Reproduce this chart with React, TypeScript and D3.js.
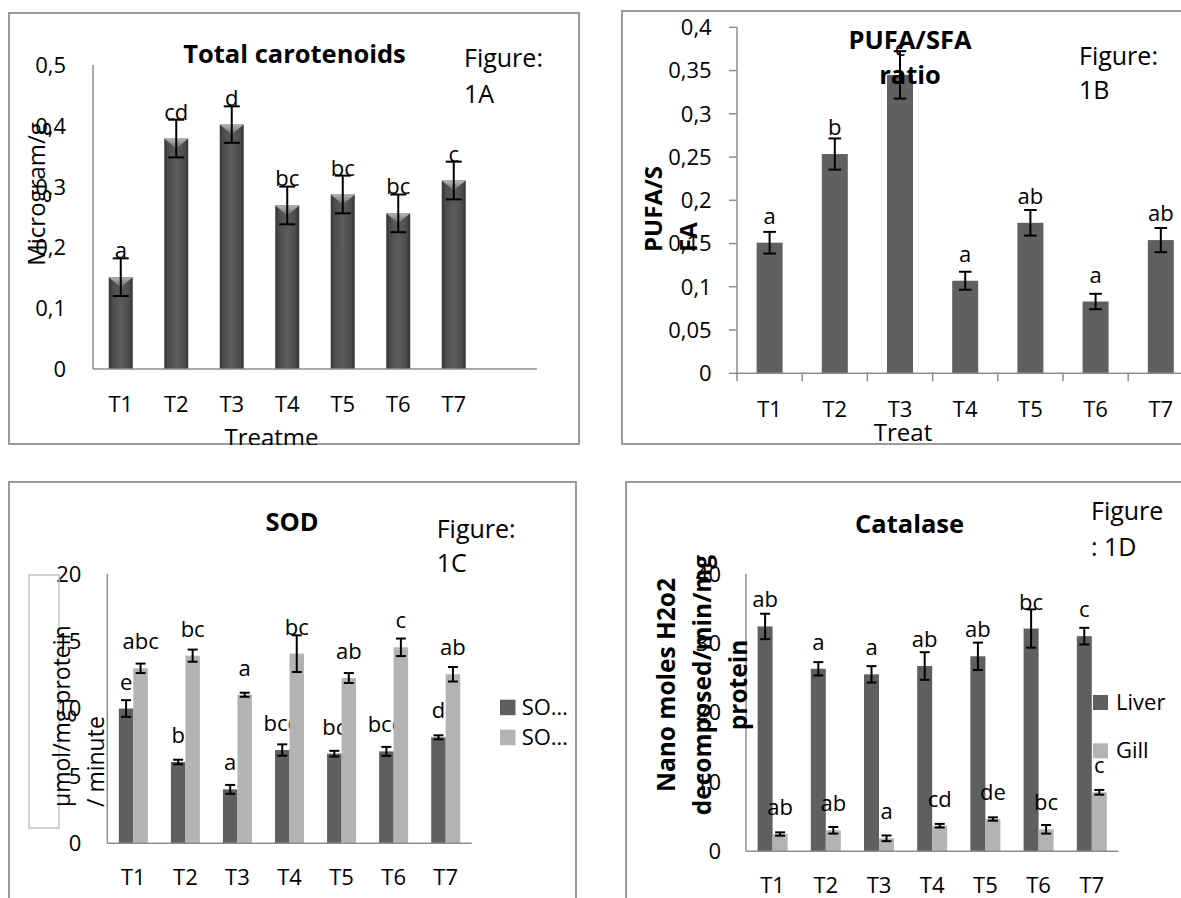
import * as d3 from "d3";
import React from "react";

const treatments = ["T1", "T2", "T3", "T4", "T5", "T6", "T7"];

// Figure 1A - total carotenoids (microgram/g)
const carotenoids = [0.151, 0.379, 0.402, 0.269, 0.287, 0.256, 0.31];
const carotenoidsErr = [0.031, 0.031, 0.03, 0.031, 0.031, 0.031, 0.031];
const carotenoidsSig = ["a", "cd", "d", "bc", "bc", "bc", "c"];
const carotenoidsTicks = [0, 0.1, 0.2, 0.3, 0.4, 0.5];

// Figure 1B - PUFA/SFA ratio
const pufaSfa = [0.151, 0.2535, 0.345, 0.107, 0.174, 0.083, 0.154];
const pufaSfaErr = [0.0125, 0.018, 0.0274, 0.0104, 0.0148, 0.0089, 0.014];
const pufaSfaSig = ["a", "b", "c", "a", "ab", "a", "ab"];
const pufaSfaTicks = [0, 0.05, 0.1, 0.15, 0.2, 0.25, 0.3, 0.35, 0.4];

// Figure 1C - SOD (two series, legend names truncated)
const sodNames = ["SO…", "SO…"];
const sod1 = [10.0, 6.03, 4.0, 6.92, 6.65, 6.82, 7.86];
const sod1Err = [0.62, 0.17, 0.33, 0.42, 0.21, 0.33, 0.15];
const sod1Sig = ["e", "b", "a", "bcd", "bc", "bcd", "d"];
const sod2 = [12.98, 13.92, 11.02, 14.07, 12.26, 14.54, 12.54];
const sod2Err = [0.35, 0.45, 0.15, 1.36, 0.37, 0.65, 0.54];
const sod2Sig = ["abc", "bc", "a", "bc", "ab", "c", "ab"];
const sodTicks = [0, 5, 10, 15, 20];

// Figure 1D - catalase
const catalaseNames = ["Liver", "Gill"];
const liver = [32.4, 26.3, 25.5, 26.7, 28.1, 32.1, 31.0];
const liverErr = [1.83, 0.96, 1.18, 1.99, 1.97, 2.76, 1.2];
const liverSig = ["ab", "a", "a", "ab", "ab", "bc", "c"];
const gill = [2.49, 3.03, 1.87, 3.69, 4.65, 3.17, 8.5];
const gillErr = [0.24, 0.48, 0.41, 0.26, 0.24, 0.62, 0.34];
const gillSig = ["ab", "ab", "a", "cd", "de", "bc", "c"];
const catalaseTicks = [0, 10, 20, 30, 40];

const FONT = "'Open Sans', 'Noto Sans', sans-serif";
const DARK = "#5f5f5f";
const LIGHT = "#b3b3b3";
const AXIS = "#8e8e8e";
const BORDER = "#9a9a9a";

const comma = (t) => String(+t.toFixed(2)).replace(".", ",");

const panels = [
  {
    id: "A",
    box: { x: 9, y: 13, w: 570, h: 431 },
    x0: 93, step: 55.5, axisEnd: 537, y0: 369, yTop: 65,
    ticks: carotenoidsTicks, fmt: comma, tickX: 66,
    series: [{ values: carotenoids, err: carotenoidsErr, sig: carotenoidsSig, fill: "url(#barGrad)" }],
    barW: 24, cap: 8, gradient: true,
    title: ["Total carotenoids"], titleX: 294.5, titleY: [63],
    figure: ["Figure:", "1A"], figX: 464, figY: [67, 103],
    yLabel: [{ t: "Microgram/g", x: 45 }], yLabelY: 194, yAnchor: "middle", yBold: false, ySize: 24,
    xLabel: "Treatme", xLabelX: 271.5, xLabelY: 446,
    xTickY: 412,
  },
  {
    id: "B",
    box: { x: 622, y: 11, w: 580, h: 433 },
    x0: 737, step: 65.2, axisEnd: 1193, y0: 373.3, yTop: 27.3,
    ticks: pufaSfaTicks, fmt: comma, tickX: 711.7,
    series: [{ values: pufaSfa, err: pufaSfaErr, sig: pufaSfaSig, fill: "#606060" }],
    barW: 26, cap: 6.3, tickMarks: true,
    title: ["PUFA/SFA", "ratio"], titleX: 910, titleY: [49, 84],
    figure: ["Figure:", "1B"], figX: 1079, figY: [65, 99],
    yLabel: [{ t: "PUFA/S", x: 662 }, { t: "FA", x: 697 }], yLabelY: 252, yAnchor: "start", yBold: true, ySize: 24,
    xLabel: "Treat", xLabelX: 903, xLabelY: 441,
    xTickY: 416.7,
  },
  {
    id: "C",
    box: { x: 9, y: 482, w: 567, h: 430 },
    x0: 107.3, step: 52.06, axisEnd: 471.7, y0: 843.3, yTop: 573.7,
    ticks: sodTicks, fmt: (t) => String(t), tickX: 81.3,
    series: [
      { values: sod1, err: sod1Err, sig: sod1Sig, fill: DARK, name: sodNames[0] },
      { values: sod2, err: sod2Err, sig: sod2Sig, fill: LIGHT, name: sodNames[1] },
    ],
    barW: 14.5, cap: 5,
    title: ["SOD"], titleX: 292, titleY: [530.7],
    figure: ["Figure:", "1C"], figX: 436.7, figY: [538, 572],
    yLabel: [{ t: "μmol/mg protein", x: 70 }, { t: "/ minute", x: 104 }], yLabelY: 807, yAnchor: "start", yBold: false, ySize: 23,
    yLabelBox: { x: 29, y: 575, w: 30, h: 253 },
    xTickY: 885,
    legend: { x: 500, size: 15.5, tops: [699.7, 729.7], textX: 521.7 },
  },
  {
    id: "D",
    box: { x: 626, y: 482, w: 580, h: 430 },
    x0: 746, step: 53.2, axisEnd: 1118.3, y0: 851.3, yTop: 573.7,
    ticks: catalaseTicks, fmt: (t) => String(t), tickX: 721,
    series: [
      { values: liver, err: liverErr, sig: liverSig, fill: DARK, name: catalaseNames[0] },
      { values: gill, err: gillErr, sig: gillSig, fill: LIGHT, name: catalaseNames[1] },
    ],
    barW: 15, cap: 5,
    title: ["Catalase"], titleX: 909.6, titleY: [533],
    figure: ["Figure", ": 1D"], figX: 1091, figY: [520, 556],
    yLabel: [
      { t: "Nano moles H2o2", x: 675 },
      { t: "decomposed/min/mg", x: 711 },
      { t: "protein", x: 747 },
    ],
    yLabelY: 685, yAnchor: "middle", yBold: true, ySize: 24.5,
    xTickY: 893,
    legend: { x: 1093, size: 15, tops: [695, 743.3], textX: 1116 },
  },
];

function Panel({ p }) {
  const x = d3.scaleBand().domain(treatments).range([p.x0, p.x0 + p.step * treatments.length]);
  const y = d3.scaleLinear().domain([0, p.ticks[p.ticks.length - 1]]).range([p.y0, p.yTop]);
  const n = p.series.length;
  const inner = d3
    .scaleBand()
    .domain(d3.range(n).map(String))
    .range([-(p.barW * n) / 2, (p.barW * n) / 2]);
  const cx = (t) => x(t) + x.bandwidth() / 2;
  const b = p.box;

  return (
    <g clipPath={`url(#clip${p.id})`}>
      <rect x={b.x} y={b.y} width={b.w} height={b.h} fill="#fff" stroke={BORDER} strokeWidth={2} />

      {/* bars, error bars, significance letters */}
      {p.series.map((s, si) =>
        treatments.map((t, i) => {
          const bx = cx(t) + inner(String(si));
          const top = y(s.values[i]);
          const mid = bx + p.barW / 2;
          const eHi = y(s.values[i] + s.err[i]);
          const eLo = y(s.values[i] - s.err[i]);
          return (
            <g key={`${si}-${t}`}>
              <rect x={bx} y={top} width={p.barW} height={p.y0 - top} fill={s.fill} />
              {p.gradient && (
                <polygon
                  points={`${bx},${top} ${bx + p.barW},${top} ${mid},${top + 10}`}
                  fill="url(#capGrad)"
                />
              )}
              <g stroke="#000" strokeWidth={2}>
                <line x1={mid} x2={mid} y1={eHi} y2={eLo} />
                <line x1={mid - p.cap} x2={mid + p.cap} y1={eHi} y2={eHi} />
                <line x1={mid - p.cap} x2={mid + p.cap} y1={eLo} y2={eLo} />
              </g>
              <text x={mid} y={top - 19} textAnchor="middle" fontSize={22}>
                {s.sig[i]}
              </text>
            </g>
          );
        })
      )}

      {/* axes */}
      <line x1={p.x0} x2={p.x0} y1={p.yTop} y2={p.y0} stroke={AXIS} strokeWidth={1.5} />
      <line x1={p.x0} x2={p.axisEnd} y1={p.y0} y2={p.y0} stroke={AXIS} strokeWidth={1.5} />
      {p.tickMarks &&
        p.ticks.map((t) => (
          <line key={`yt${t}`} x1={p.x0 - 8} x2={p.x0} y1={y(t)} y2={y(t)} stroke={AXIS} strokeWidth={1.5} />
        ))}
      {p.tickMarks &&
        d3.range(treatments.length + 1).map((k) => (
          <line
            key={`xt${k}`}
            x1={p.x0 + k * x.step()}
            x2={p.x0 + k * x.step()}
            y1={p.y0}
            y2={p.y0 + 8}
            stroke={AXIS}
            strokeWidth={1.5}
          />
        ))}
      {p.ticks.map((t) => (
        <text key={`yl${t}`} x={p.tickX} y={y(t)} dy="0.36em" textAnchor="end" fontSize={22}>
          {p.fmt(t)}
        </text>
      ))}
      {treatments.map((t) => (
        <text key={`xl${t}`} x={cx(t)} y={p.xTickY} textAnchor="middle" fontSize={22}>
          {t}
        </text>
      ))}

      {/* titles */}
      {p.title.map((line, i) => (
        <text key={`ti${i}`} x={p.titleX} y={p.titleY[i]} textAnchor="middle" fontSize={25.5} fontWeight="bold">
          {line}
        </text>
      ))}
      {p.figure.map((line, i) => (
        <text key={`fi${i}`} x={p.figX} y={p.figY[i]} fontSize={25}>
          {line}
        </text>
      ))}

      {p.yLabelBox && (
        <rect
          x={p.yLabelBox.x}
          y={p.yLabelBox.y}
          width={p.yLabelBox.w}
          height={p.yLabelBox.h}
          fill="none"
          stroke="#c4c4c4"
          strokeWidth={1.5}
        />
      )}
      {p.yLabel.map((l, i) => (
        <text
          key={`yx${i}`}
          transform={`translate(${l.x},${p.yLabelY}) rotate(-90)`}
          textAnchor={p.yAnchor}
          fontSize={p.ySize}
          fontWeight={p.yBold ? "bold" : "normal"}
        >
          {l.t}
        </text>
      ))}
      {p.xLabel && (
        <text x={p.xLabelX} y={p.xLabelY} textAnchor="middle" fontSize={24}>
          {p.xLabel}
        </text>
      )}

      {p.legend &&
        p.series.map((s, si) => (
          <g key={`lg${si}`}>
            <rect x={p.legend.x} y={p.legend.tops[si]} width={p.legend.size} height={p.legend.size} fill={s.fill} />
            <text x={p.legend.textX} y={p.legend.tops[si] + p.legend.size} fontSize={22}>
              {s.name}
            </text>
          </g>
        ))}
    </g>
  );
}

export default function App() {
  return (
    <svg
      width={1181}
      height={898}
      style={{ position: "absolute", left: 0, top: 0, background: "#fff" }}
      fontFamily={FONT}
    >
      <defs>
        <linearGradient id="barGrad" x1="0" x2="1" y1="0" y2="0">
          <stop offset="0" stopColor="#353535" />
          <stop offset="0.18" stopColor="#4d4d4d" />
          <stop offset="0.5" stopColor="#5c5c5c" />
          <stop offset="0.82" stopColor="#4d4d4d" />
          <stop offset="1" stopColor="#353535" />
        </linearGradient>
        <linearGradient id="capGrad" x1="0" x2="0" y1="0" y2="1">
          <stop offset="0" stopColor="#b4b4b4" />
          <stop offset="1" stopColor="#6a6a6a" />
        </linearGradient>
        {panels.map((p) => (
          <clipPath key={p.id} id={`clip${p.id}`}>
            <rect x={p.box.x - 1} y={p.box.y - 1} width={p.box.w + 2} height={p.box.h + 2} />
          </clipPath>
        ))}
      </defs>
      {panels.map((p) => (
        <Panel key={p.id} p={p} />
      ))}
    </svg>
  );
}
